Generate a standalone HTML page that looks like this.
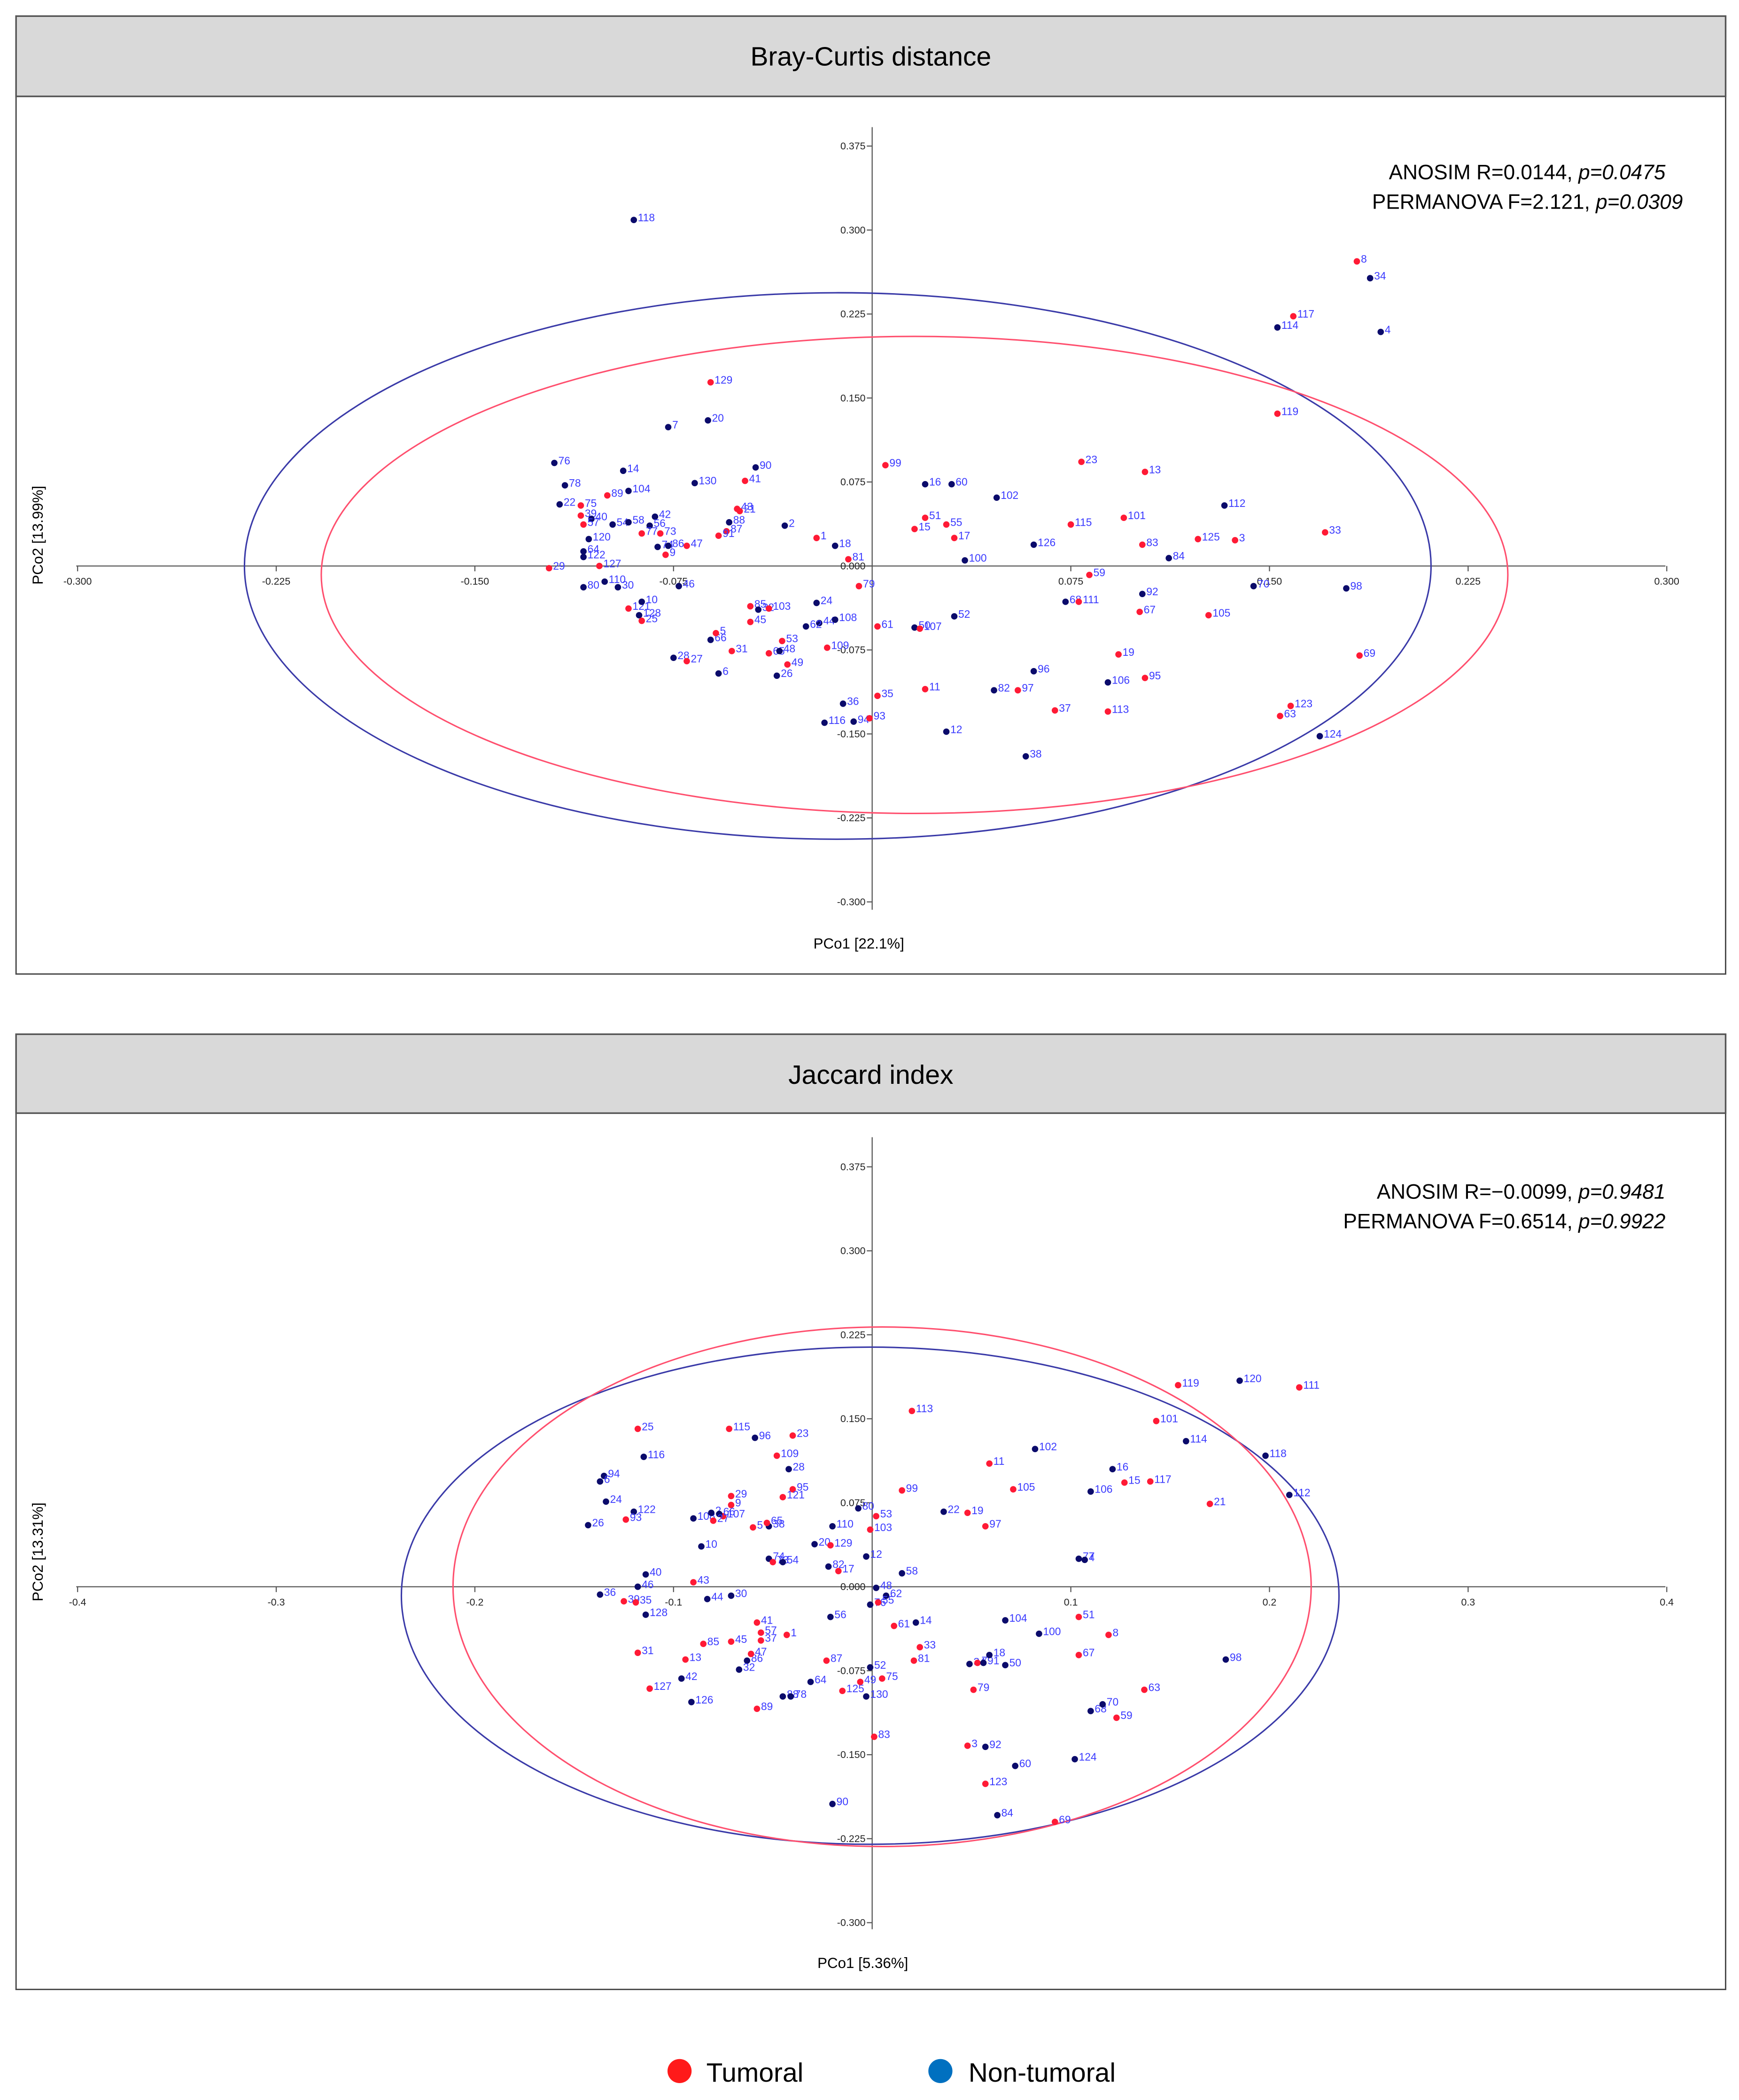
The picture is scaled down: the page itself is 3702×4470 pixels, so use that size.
<!DOCTYPE html>
<html><head><meta charset="utf-8"><style>
html,body{margin:0;padding:0;background:#fff;}
svg{display:block;font-family:"Liberation Sans",sans-serif;}
</style></head><body>
<svg id="fig" width="3702" height="4470" viewBox="0 0 1300 1569.6" xmlns="http://www.w3.org/2000/svg">
<g>
<rect x="12" y="12" width="1278" height="716" fill="#fff" stroke="#444" stroke-width="1"/>
<rect x="12" y="12" width="1278" height="60" fill="#d9d9d9" stroke="#555" stroke-width="1.2"/>
<text x="651" y="49" font-size="20" text-anchor="middle">Bray-Curtis distance</text>
<text transform="translate(32,400) rotate(-90)" font-size="11" text-anchor="middle">PCo2 [13.99%]</text>
<text x="642" y="709" font-size="11" text-anchor="middle">PCo1 [22.1%]</text>
<text x="1245" y="134" font-size="15.5" text-anchor="end">ANOSIM R=0.0144, <tspan font-style="italic">p=0.0475</tspan></text>
<text x="1258" y="156" font-size="15.5" text-anchor="end">PERMANOVA F=2.121, <tspan font-style="italic">p=0.0309</tspan></text>
<g id="bc"></g>
</g>
<g>
<rect x="12" y="773" width="1278" height="714" fill="#fff" stroke="#444" stroke-width="1"/>
<rect x="12" y="773" width="1278" height="59" fill="#d9d9d9" stroke="#555" stroke-width="1.2"/>
<text x="651" y="810" font-size="20" text-anchor="middle">Jaccard index</text>
<text transform="translate(32,1160) rotate(-90)" font-size="11" text-anchor="middle">PCo2 [13.31%]</text>
<text x="645" y="1471" font-size="11" text-anchor="middle">PCo1 [5.36%]</text>
<text x="1245" y="896" font-size="15.5" text-anchor="end">ANOSIM R=−0.0099, <tspan font-style="italic">p=0.9481</tspan></text>
<text x="1245" y="918" font-size="15.5" text-anchor="end">PERMANOVA F=0.6514, <tspan font-style="italic">p=0.9922</tspan></text>
<g id="jc"></g>
</g>
<g>
<g><circle cx="508" cy="1548" r="9" fill="#ff1a1a"/><text x="528" y="1556" font-size="20">Tumoral</text></g>
<g><circle cx="703" cy="1548" r="9" fill="#0070c0"/><text x="724" y="1556" font-size="20">Non-tumoral</text></g>
</g>
</svg>
<script>
const bcLabels=[118,7,20,129,76,14,78,104,130,90,41,22,89,75,39,40,57,54,58,42,56,77,73,74,86,9,47,43,21,88,87,91,2,1,18,81,120,64,122,127,29,110,80,30,46,121,10,128,25,28,27,66,5,6,31,85,32,103,45,65,48,53,49,26,24,44,62,108,109,79,61,36,35,116,94,93,99,16,60,102,51,15,55,17,100,126,115,23,13,101,83,84,125,3,112,33,59,68,111,92,67,105,70,98,50,107,52,19,96,106,95,82,97,11,37,113,12,38,69,123,63,124,119,114,117,8,34,4];
const bcGroup="NNNTNNNNNNTNTTTNTNNNNTTNNTTTTNTTNTNTNNNTTNNNNTNNTNTNTNTTNTTTNTTNNNNNTTTNTNNTTNNNTTTTNNTTTTTNTTNTTNTNTTNNNTNTNNTNTTTTNNTTTNTNTTNN";
const bcX=[-0.090,-0.077,-0.062,-0.061,-0.120,-0.094,-0.116,-0.092,-0.067,-0.044,-0.048,-0.118,-0.100,-0.110,-0.110,-0.106,-0.109,-0.098,-0.092,-0.082,-0.084,-0.087,-0.080,-0.081,-0.077,-0.078,-0.070,-0.051,-0.050,-0.054,-0.055,-0.058,-0.033,-0.021,-0.014,-0.009,-0.107,-0.109,-0.109,-0.103,-0.122,-0.101,-0.109,-0.096,-0.073,-0.092,-0.087,-0.088,-0.087,-0.075,-0.070,-0.061,-0.059,-0.058,-0.053,-0.046,-0.043,-0.039,-0.046,-0.039,-0.035,-0.034,-0.032,-0.036,-0.021,-0.020,-0.025,-0.014,-0.017,-0.005,0.002,-0.011,0.002,-0.018,-0.007,-0.001,0.005,0.020,0.030,0.047,0.020,0.016,0.028,0.031,0.035,0.061,0.075,0.079,0.103,0.095,0.102,0.112,0.123,0.137,0.133,0.171,0.082,0.073,0.078,0.102,0.101,0.127,0.144,0.179,0.016,0.018,0.031,0.093,0.061,0.089,0.103,0.046,0.055,0.020,0.069,0.089,0.028,0.058,0.184,0.158,0.154,0.169,0.153,0.153,0.159,0.183,0.188,0.192];
const bcY=[0.309,0.124,0.130,0.164,0.092,0.085,0.072,0.067,0.074,0.088,0.076,0.055,0.063,0.054,0.045,0.042,0.037,0.037,0.039,0.044,0.036,0.029,0.029,0.017,0.018,0.010,0.018,0.051,0.049,0.039,0.031,0.027,0.036,0.025,0.018,0.006,0.024,0.013,0.008,0.000,-0.002,-0.014,-0.019,-0.019,-0.018,-0.038,-0.032,-0.044,-0.049,-0.082,-0.085,-0.066,-0.060,-0.096,-0.076,-0.036,-0.039,-0.038,-0.050,-0.078,-0.076,-0.067,-0.088,-0.098,-0.033,-0.051,-0.054,-0.048,-0.073,-0.018,-0.054,-0.123,-0.116,-0.140,-0.139,-0.136,0.090,0.073,0.073,0.061,0.043,0.033,0.037,0.025,0.005,0.019,0.037,0.093,0.084,0.043,0.019,0.007,0.024,0.023,0.054,0.030,-0.008,-0.032,-0.032,-0.025,-0.041,-0.044,-0.018,-0.020,-0.055,-0.056,-0.045,-0.079,-0.094,-0.104,-0.100,-0.111,-0.111,-0.110,-0.129,-0.130,-0.148,-0.170,-0.080,-0.125,-0.134,-0.152,0.136,0.213,0.223,0.272,0.257,0.209];
const bcXTicks=["-0.300","-0.225","-0.150","-0.075","0.075","0.150","0.225","0.300"];
const bcXTickVals=[-0.3,-0.225,-0.15,-0.075,0.075,0.15,0.225,0.3];
const bcYTicks=["0.375","0.300","0.225","0.150","0.075","0.000","-0.075","-0.150","-0.225","-0.300"];
const bcYTickVals=[0.375,0.3,0.225,0.15,0.075,0,-0.075,-0.15,-0.225,-0.3];
const bcEllipseBlue=[-0.013,0.000,0.224,0.244];
const bcEllipseRed=[0.016,-0.008,0.224,0.213];

const jcLabels=[119,120,111,113,101,114,118,112,25,115,96,23,116,109,28,95,121,94,6,24,122,93,26,107,29,9,108,2,66,27,10,5,38,65,20,129,110,80,53,103,74,73,54,82,17,12,43,40,46,36,39,35,128,44,30,31,127,13,42,126,85,45,86,47,32,41,57,37,1,88,78,89,64,87,56,125,130,49,75,52,90,83,48,76,62,55,61,14,33,81,58,22,19,97,99,11,105,102,16,106,15,117,21,77,4,104,100,51,8,67,34,7,91,18,50,79,63,98,68,70,59,3,92,60,124,123,84,69];
const jcGroup="TNTTTNNNTTNTNTNTTNNNNTNTTTNNNTNTNTNTNNTTNTNNTNTNNNTTNNNTTTNNTTNTNTTTTNNTNTNTNTTNNTNNNTTNTTNNTTTTTNNNTTTNNNNTTTNTNNNTTNNNTTNNNTNT";
const jcX=[0.154,0.185,0.215,0.020,0.143,0.158,0.198,0.210,-0.118,-0.072,-0.059,-0.040,-0.115,-0.048,-0.042,-0.040,-0.045,-0.135,-0.137,-0.134,-0.120,-0.124,-0.143,-0.075,-0.071,-0.071,-0.090,-0.081,-0.077,-0.080,-0.086,-0.060,-0.052,-0.053,-0.029,-0.021,-0.020,-0.007,0.002,-0.001,-0.052,-0.050,-0.045,-0.022,-0.017,-0.003,-0.090,-0.114,-0.118,-0.137,-0.125,-0.119,-0.114,-0.083,-0.071,-0.118,-0.112,-0.094,-0.096,-0.091,-0.085,-0.071,-0.063,-0.061,-0.067,-0.058,-0.056,-0.056,-0.043,-0.045,-0.041,-0.058,-0.031,-0.023,-0.021,-0.015,-0.003,-0.006,0.005,-0.001,-0.020,0.001,0.002,-0.001,0.007,0.003,0.011,0.022,0.024,0.021,0.015,0.036,0.048,0.057,0.015,0.059,0.071,0.082,0.121,0.110,0.127,0.140,0.170,0.104,0.107,0.067,0.084,0.104,0.119,0.104,0.049,0.053,0.056,0.059,0.067,0.051,0.137,0.178,0.110,0.116,0.123,0.048,0.057,0.072,0.102,0.057,0.063,0.092];
const jcY=[0.180,0.184,0.178,0.157,0.148,0.130,0.117,0.082,0.141,0.141,0.133,0.135,0.116,0.117,0.105,0.087,0.080,0.099,0.094,0.076,0.067,0.060,0.055,0.063,0.081,0.073,0.061,0.066,0.065,0.059,0.036,0.053,0.054,0.057,0.038,0.037,0.054,0.070,0.063,0.051,0.025,0.022,0.022,0.018,0.014,0.027,0.004,0.011,0.000,-0.007,-0.013,-0.014,-0.025,-0.011,-0.008,-0.059,-0.091,-0.065,-0.082,-0.103,-0.051,-0.049,-0.066,-0.060,-0.074,-0.032,-0.041,-0.048,-0.043,-0.098,-0.098,-0.109,-0.085,-0.066,-0.027,-0.093,-0.098,-0.085,-0.082,-0.072,-0.194,-0.134,-0.001,-0.016,-0.008,-0.014,-0.035,-0.032,-0.054,-0.066,0.012,0.067,0.066,0.054,0.086,0.110,0.087,0.123,0.105,0.085,0.093,0.094,0.074,0.025,0.024,-0.030,-0.042,-0.027,-0.043,-0.061,-0.069,-0.068,-0.068,-0.061,-0.070,-0.092,-0.092,-0.065,-0.111,-0.105,-0.117,-0.142,-0.143,-0.160,-0.154,-0.176,-0.204,-0.210];
const jcXTicks=["-0.4","-0.3","-0.2","-0.1","0.1","0.2","0.3","0.4"];
const jcXTickVals=[-0.4,-0.3,-0.2,-0.1,0.1,0.2,0.3,0.4];
const jcYTicks=["0.375","0.300","0.225","0.150","0.075","0.000","-0.075","-0.150","-0.225","-0.300"];
const jcYTickVals=[0.375,0.3,0.225,0.15,0.075,0,-0.075,-0.15,-0.225,-0.3];
const jcEllipseBlue=[-0.001,-0.008,0.236,0.222];
const jcEllipseRed=[0.005,0.000,0.216,0.232];

const NS="http://www.w3.org/2000/svg";
function mk(tag,attrs,parent){const e=document.createElementNS(NS,tag);for(const k in attrs)e.setAttribute(k,attrs[k]);parent.appendChild(e);return e;}

function drawChart(gid,prefix,ox,oy,kx,ky,xTop,xBot,yTop,yBot,labels,groups,xs,ys,xt,xtv,yt,ytv,eB,eR){
  const g=document.getElementById(gid);
  const sx=v=>ox+v*kx, sy=v=>oy-v*ky;
  const xa=mk('line',{x1:xTop,x2:xBot,y1:oy,y2:oy,stroke:'#555','stroke-width':0.8},g);
  
  
  const ya=mk('line',{x1:ox,x2:ox,y1:yTop,y2:yBot,stroke:'#555','stroke-width':0.8},g);
  
  
  xt.forEach((t,i)=>{
    const x=sx(xtv[i]);
    mk('line',{x1:x,x2:x,y1:oy,y2:oy+4,stroke:'#555','stroke-width':0.8},g);
    const tx=mk('text',{x:x,y:oy+14,'font-size':7.5,'text-anchor':'middle',fill:'#222'},g);
    tx.textContent=t;
    
    
  });
  yt.forEach((t,i)=>{
    const y=sy(ytv[i]);
    mk('line',{x1:ox-4,x2:ox,y1:y,y2:y,stroke:'#555','stroke-width':0.8},g);
    const tx=mk('text',{x:ox-5,y:y+2.5,'font-size':7.5,'text-anchor':'end',fill:'#222'},g);
    tx.textContent=t;
    
    
  });
  const b=mk('ellipse',{cx:sx(eB[0]),cy:sy(eB[1]),rx:eB[2]*kx,ry:eB[3]*ky,fill:'none',stroke:'#3a3aa8','stroke-width':1.1},g);
  
  
  const r=mk('ellipse',{cx:sx(eR[0]),cy:sy(eR[1]),rx:eR[2]*kx,ry:eR[3]*ky,fill:'none',stroke:'#ff4f6e','stroke-width':1.1},g);
  
  
  labels.forEach((lab,i)=>{
    const x=sx(xs[i]), y=sy(ys[i]);
    const c=mk('circle',{cx:x,cy:y,r:2.4,fill:groups[i]==='T'?'#ff1a35':'#0b0b6b'},g);
    
    
    const t=mk('text',{x:x+3,y:y+1,'font-size':8,fill:'#3a3aff'},g);
    t.textContent=lab;
    
    
  });
}
drawChart('bc','bc',652,423,1980,837,57,1245,95,680,bcLabels,bcGroup,bcX,bcY,bcXTicks,bcXTickVals,bcYTicks,bcYTickVals,bcEllipseBlue,bcEllipseRed);
drawChart('jc','jc',652,1186,1485,837,57,1245,850,1442,jcLabels,jcGroup,jcX,jcY,jcXTicks,jcXTickVals,jcYTicks,jcYTickVals,jcEllipseBlue,jcEllipseRed);
</script>
</body></html>
